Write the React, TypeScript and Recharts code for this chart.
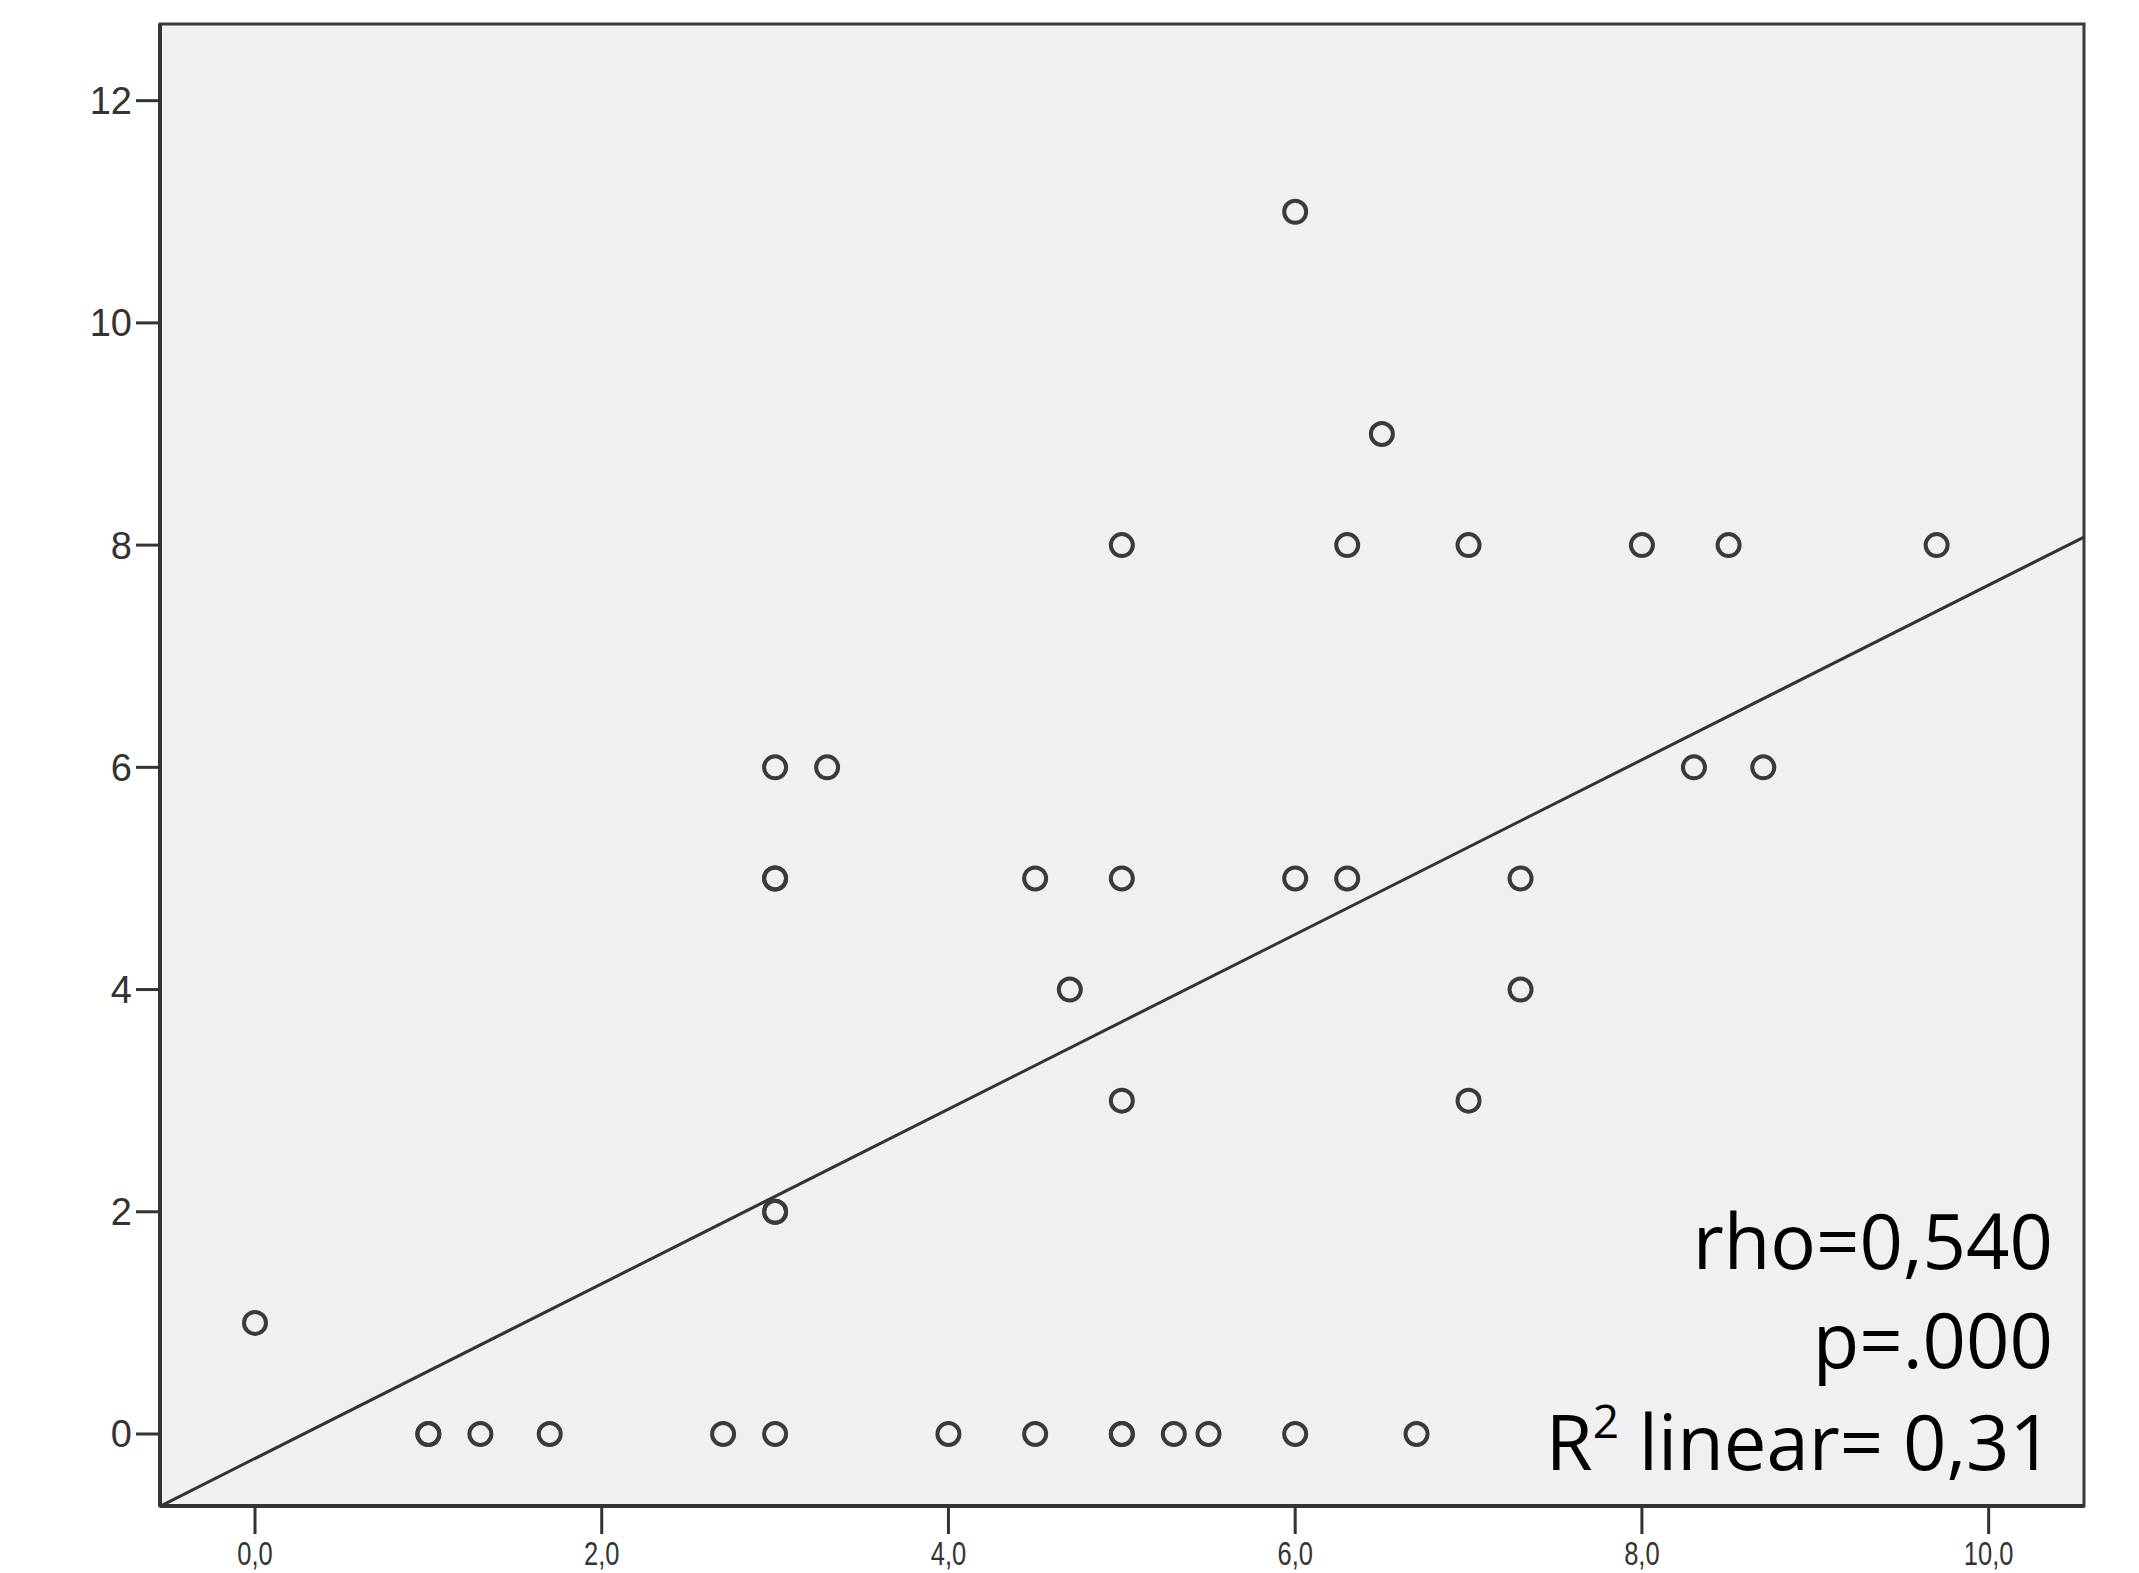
import React from 'react';
import { ScatterChart, Scatter, XAxis, YAxis, CartesianGrid, ReferenceLine, ReferenceArea } from 'recharts';

const xValues = [0, 1, 1, 1.3, 1.7, 2.7, 3, 4, 4.5, 5, 5, 5.3, 5.5, 6, 6.7, 3, 3, 5, 7, 4.7, 7.3, 3, 3, 4.5, 5, 6, 6.3, 7.3, 3, 3.3, 8.3, 8.7, 5, 6.3, 7, 8, 8.5, 9.7, 6.5, 6];
const yValues = [1, 0, 0, 0, 0, 0, 0, 0, 0, 0, 0, 0, 0, 0, 0, 2, 2, 3, 3, 4, 4, 5, 5, 5, 5, 5, 5, 5, 6, 6, 6, 6, 8, 8, 8, 8, 8, 8, 9, 11];

const xTicks = [0, 2, 4, 6, 8, 10];
const yTicks = [0, 2, 4, 6, 8, 10, 12];

// fit line
const fitIntercept = -0.22;
const fitSlope = 0.786;

const statLines = ['rho=0,540', 'p=.000'];
const r2Text = ' linear= 0,31';

const X_MIN = -0.548;
const X_MAX = 10.55;
const Y_MIN = -0.648;
const Y_MAX = 12.69;

const data = xValues.map((x, i) => ({ x, y: yValues[i] }));

const Ring = (props: any) => (
  <circle cx={props.cx} cy={props.cy} r={11} fill="none" stroke="#3a3a3a" strokeWidth={4} />
);

const XTick = (props: any) => {
  const { x, y, payload } = props;
  return (
    <g transform={`translate(${x},${y}) scale(0.75,1)`}>
      <text x={0} y={0} dy={29} textAnchor="middle" fontSize={34} fill="#333" fontFamily="Liberation Sans, Arial, sans-serif">
        {payload.value.toFixed(1).replace('.', ',')}
      </text>
    </g>
  );
};

const App: React.FC = () => {
  return (
    <div style={{ position: 'absolute', left: 0, top: 0, width: 2139, height: 1573, background: '#fff', overflow: 'hidden' }}>
      <ScatterChart width={2139} height={1573} margin={{ top: 24, right: 55, bottom: 0, left: 0 }}>
        <CartesianGrid fill="#f0f0f0" horizontal={false} vertical={false} />
        <XAxis
          type="number"
          dataKey="x"
          domain={[X_MIN, X_MAX]}
          ticks={xTicks}
          allowDataOverflow
          height={67}
          tickSize={28}
          tickLine={{ stroke: '#333', strokeWidth: 3 }}
          axisLine={{ stroke: '#333', strokeWidth: 4 }}
          tick={<XTick />}
        />
        <YAxis
          type="number"
          dataKey="y"
          domain={[Y_MIN, Y_MAX]}
          ticks={yTicks}
          allowDataOverflow
          width={160}
          tickSize={24}
          tickMargin={4}
          tickLine={{ stroke: '#333', strokeWidth: 3 }}
          axisLine={{ stroke: '#333', strokeWidth: 4 }}
          tick={{ fontSize: 38, fill: '#333', fontFamily: 'Liberation Sans, Arial, sans-serif' }}
        />
        <ReferenceArea x1={X_MIN} x2={X_MAX} y1={Y_MIN} y2={Y_MAX} fill="none" stroke="#3a3a3a" strokeWidth={3} ifOverflow="visible" />
        <ReferenceLine
          segment={[
            { x: X_MIN, y: fitIntercept + fitSlope * X_MIN },
            { x: X_MAX, y: fitIntercept + fitSlope * X_MAX },
          ]}
          stroke="#333"
          strokeWidth={3}
          ifOverflow="visible"
        />
        <Scatter data={data} shape={<Ring />} isAnimationActive={false} />
      </ScatterChart>
      <svg width={2139} height={1573} style={{ position: 'absolute', left: 0, top: 0, pointerEvents: 'none' }}>
        <g fontFamily="Open Sans, sans-serif" fontSize={76} fill="#000" textAnchor="end">
          <text x={2053} y={1269}>{statLines[0]}</text>
          <text x={2053} y={1368}>{statLines[1]}</text>
          <text x={2053} y={1470}>
            R<tspan fontSize={46} dy={-32}>2</tspan>
            <tspan dy={32}>{r2Text}</tspan>
          </text>
        </g>
      </svg>
    </div>
  );
};

export default App;
